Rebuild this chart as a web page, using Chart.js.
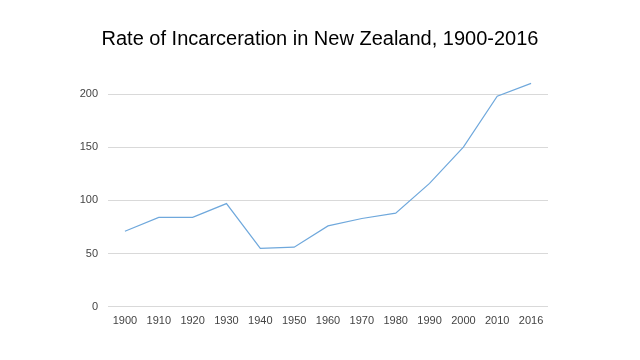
<!DOCTYPE html>
<html>
<head>
<meta charset="utf-8">
<script src="https://cdn.jsdelivr.net/npm/chart.js"></script>
<style>
  html, body { margin: 0; padding: 0; background: #fff; }
  #wrap { width: 640px; height: 360px; }
</style>
</head>
<body>
<div id="wrap"><canvas id="chart"></canvas></div>
<script>
// Prisoners per 100,000 people
const years = ['1900', '1910', '1920', '1930', '1940', '1950', '1960', '1970', '1980', '1990', '2000', '2010', '2016'];
const rates = [71, 84, 84, 97, 55, 56, 76, 83, 88, 116, 150, 198, 210];
const yTicks = [0, 50, 100, 150, 200];

const ctx = document.getElementById('chart').getContext('2d');
new Chart(ctx, {
    type: 'line',
    data: {
        labels: years,
        datasets: [{
            data: rates,
            borderColor: '#6fa8dc',
            borderWidth: 1.2,
            pointRadius: 0,
            tension: 0,
            fill: false,
            clip: false
        }]
    },
    options: {
        responsive: true,
        maintainAspectRatio: false,
        animation: false,
        layout: {
            padding: { left: 0, right: 0, top: 0, bottom: 24 }
        },
        plugins: {
            legend: { display: false },
            tooltip: { enabled: false },
            title: {
                display: true,
                text: 'Rate of Incarceration in New Zealand, 1900-2016',
                color: '#000',
                font: { family: 'Liberation Sans, Arial', size: 20, weight: 'normal' },
                padding: { top: 27, bottom: 43 }
            }
        },
        scales: {
            x: {
                offset: true,
                grid: { display: false, drawTicks: false },
                border: { display: false },
                ticks: {
                    color: '#444',
                    font: { family: 'Liberation Sans, Arial', size: 11 },
                    padding: 8,
                    maxRotation: 0
                }
            },
            y: {
                min: 0,
                max: 200,
                afterBuildTicks: function(axis) {
                    axis.ticks = yTicks.map(v => ({ value: v }));
                },
                afterFit: function(axis) { axis.width = 108; },
                grid: { color: '#d9d9d9', drawTicks: false },
                border: { display: false },
                ticks: {
                    color: '#444',
                    font: { family: 'Liberation Sans, Arial', size: 11 },
                    padding: 10
                }
            },
            // empty axis that only keeps the right margin
            yRight: {
                position: 'right',
                afterFit: function(axis) { axis.width = 92; },
                grid: { display: false, drawTicks: false },
                border: { display: false },
                ticks: { display: false }
            }
        }
    }
});
</script>
</body>
</html>
